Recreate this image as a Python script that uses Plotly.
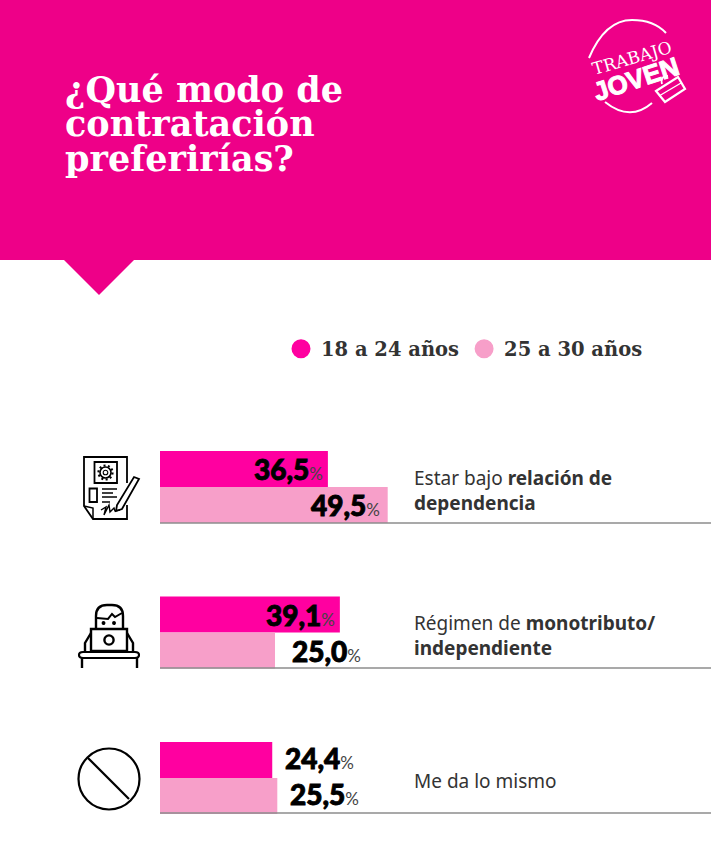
import plotly.graph_objects as go

W = 711
H = 861

# data
categories = ['relacion', 'monotributo', 'mismo']
young = [36.5, 39.1, 24.4]
older = [49.5, 25.0, 25.5]
series_names = ['18 a 24 años', '25 a 30 años']
category_labels = [
    'Estar bajo <b>relación de</b><br><b>dependencia</b>',
    'Régimen de <b>monotributo/</b><br><b>independiente</b>',
    'Me da lo mismo',
]
title_lines = ['¿Qué modo de', 'contratación', 'preferirías?']

PINK = '#FF00A0'
PALE = '#F79FC9'
HEAD = '#EE0088'
SERIF = 'DejaVu Serif'
LABEL_FONT = 'Lato'
TEXT_FONT = 'Noto Sans'


def px(x):
    return x / W


def py(y):
    return 1 - y / H


def path(cmds):
    """Turn [('M', x, y), ('Q', x1, y1, x, y), ...] in page pixels into a paper path."""
    out = []
    for c in cmds:
        if c[0] == 'Z':
            out.append('Z')
            continue
        nums = []
        for i in range(1, len(c), 2):
            nums.append(f'{px(c[i]):.5f},{py(c[i + 1]):.5f}')
        out.append(c[0] + ' ' + ' '.join(nums))
    return ' '.join(out)


def shape_path(cmds, color='black', width=2, fill=None):
    return dict(type='path', xref='paper', yref='paper', path=path(cmds),
                line=dict(color=color, width=width),
                fillcolor=fill if fill else 'rgba(0,0,0,0)', layer='above')


def line(x0, y0, x1, y1, color='black', width=2):
    return shape_path([('M', x0, y0), ('L', x1, y1)], color, width)


def circle(cx, cy, r, color='black', width=2, fill=None, dash='solid'):
    return dict(type='circle', xref='paper', yref='paper',
                x0=px(cx - r), x1=px(cx + r), y0=py(cy + r), y1=py(cy - r),
                line=dict(color=color, width=width, dash=dash),
                fillcolor=fill if fill else 'rgba(0,0,0,0)', layer='above')


def rect(x0, y0, x1, y1, color='black', width=2, fill=None):
    return dict(type='rect', xref='paper', yref='paper',
                x0=px(x0), x1=px(x1), y0=py(y1), y1=py(y0),
                line=dict(color=color, width=width),
                fillcolor=fill if fill else 'rgba(0,0,0,0)', layer='above')


fig = go.Figure()

fig.add_trace(go.Bar(y=categories, x=young, orientation='h', marker_color=PINK,
                     marker_line_width=0, showlegend=False, hoverinfo='skip'))
fig.add_trace(go.Bar(y=categories, x=older, orientation='h', marker_color=PALE,
                     marker_line_width=0, showlegend=False, hoverinfo='skip'))

# legend entries only, the legend in the original uses dots
for name, color in zip(series_names, [PINK, PALE]):
    fig.add_trace(go.Scatter(x=[None], y=[None], mode='markers', name=name,
                             marker=dict(color=color, size=16, line=dict(color=color, width=3))))

shapes = []

# header band and its pointer
shapes.append(dict(type='rect', xref='paper', yref='paper', x0=0, x1=1, y0=py(260), y1=1,
                   fillcolor=HEAD, line_width=0, layer='below'))
shapes.append(dict(type='path', xref='paper', yref='paper', layer='below',
                   path=path([('M', 64, 260), ('L', 134, 260), ('L', 99, 295), ('Z',)]),
                   fillcolor=HEAD, line_width=0))

# logo
shapes.append(shape_path([('M', 589, 58), ('Q', 605, 20, 632, 20), ('Q', 654, 20, 666, 33)], 'white', 2))
shapes.append(shape_path([('M', 605, 102), ('Q', 630, 122, 652, 103)], 'white', 2))
shapes.append(shape_path([('M', 662, 84), ('Q', 660, 76, 668, 76)], 'white', 1.8))
shapes.append(shape_path([('M', 656, 91), ('L', 678, 77), ('L', 685, 89), ('L', 665, 102), ('Z',)],
                         'white', 2.2, HEAD))
shapes.append(line(659, 96, 681, 83, 'white', 1.4))

# baselines under each group
for y in [523, 668, 813]:
    shapes.append(line(160, y, 711, y, '#8C8C8C', 1.5))

# contract icon
shapes.append(shape_path([('M', 127, 483), ('L', 127, 457), ('L', 84, 457), ('L', 84, 506), ('L', 93, 519),
                          ('L', 127, 519), ('L', 127, 505)], 'black', 1.8))
shapes.append(shape_path([('M', 84, 506), ('L', 93, 508), ('L', 93, 519)], 'black', 1.5))
shapes.append(rect(94.5, 462, 117, 483, 'black', 1.8))
shapes.append(circle(105.5, 472.5, 5.5, 'black', 1.6))
shapes.append(circle(105.5, 472.5, 7, 'black', 2.2, dash='2px,2.4px'))
shapes.append(circle(105.5, 472.5, 2.3, 'black', 1.1))
shapes.append(rect(89.5, 488.5, 97, 502, 'black', 1.8))
for y0, x1 in zip([489, 493, 497, 502], [117, 113, 117, 110]):
    shapes.append(line(102, y0, x1, y0, 'black', 1.5))
shapes.append(shape_path([('M', 134, 477), ('L', 139, 479), ('L', 122, 509), ('L', 116, 511),
                          ('L', 117, 505), ('Z',)], 'black', 1.8, 'white'))
shapes.append(shape_path([('M', 101, 510), ('L', 106, 507), ('L', 104, 515), ('L', 109, 505),
                          ('L', 110, 512), ('L', 114, 508), ('L', 115, 511), ('L', 120, 510)], 'black', 1.4))

# person with laptop icon
shapes.append(shape_path([('M', 96, 629), ('L', 96, 616), ('Q', 96, 605, 107, 605), ('L', 112, 605),
                          ('Q', 123, 605, 123, 616), ('L', 123, 629)], 'black', 2.4))
shapes.append(shape_path([('M', 97, 618), ('L', 108, 619), ('L', 112, 614), ('L', 115, 617),
                          ('L', 122, 613)], 'black', 2))
shapes.append(circle(103.5, 623, 1.2, 'black', 1.5, 'black'))
shapes.append(circle(114, 623, 1.2, 'black', 1.5, 'black'))
shapes.append(rect(91, 629, 127, 651, 'black', 2.4, 'white'))
shapes.append(circle(109, 640, 4.6, 'black', 2.4))
shapes.append(shape_path([('M', 91, 633), ('L', 85, 643), ('L', 85, 651)], 'black', 2.4))
shapes.append(shape_path([('M', 127, 633), ('L', 133, 643), ('L', 133, 651)], 'black', 2.4))
shapes.append(shape_path([('M', 83, 652), ('L', 135, 652), ('Q', 139, 652, 139, 655), ('Q', 139, 658, 135, 658),
                          ('L', 83, 658), ('Q', 79, 658, 79, 655), ('Q', 79, 652, 83, 652)], 'black', 2.2))
shapes.append(line(82, 658, 82, 668, 'black', 2.4))
shapes.append(line(137, 658, 137, 668, 'black', 2.4))

# prohibition icon
shapes.append(circle(109, 779, 30.5, 'black', 2.2))
shapes.append(line(88, 758, 129, 799, 'black', 2.2))

annotations = []

for i, text in enumerate(title_lines):
    annotations.append(dict(xref='paper', yref='paper', x=px(63), y=py(89 + i * 34.5),
                            xanchor='left', yanchor='middle', showarrow=False, text=f'<b>{text}</b>',
                            font=dict(family=SERIF, size=35, color='white')))

annotations.append(dict(xref='paper', yref='paper', x=px(632), y=py(58), xanchor='center', yanchor='middle',
                        showarrow=False, text='TRABAJO', textangle=-16,
                        font=dict(family=SERIF, size=17, color='white')))
annotations.append(dict(xref='paper', yref='paper', x=px(636), y=py(79), xanchor='center', yanchor='middle',
                        showarrow=False, text='<span style="stroke:white;stroke-width:1px"><b>JOVEN</b></span>',
                        textangle=-18, font=dict(family='Liberation Sans', size=26, color='white')))

# value labels, shift is how far the label's right edge sits from the bar end
young_shift = [-3, -3, 84]
older_shift = [-6, 88, 84]
group_lift = [0, 0, 2]
for cat, v1, v2, s1, s2, lift in zip(categories, young, older, young_shift, older_shift, group_lift):
    for v, s, yshift in [(v1, s1, 18 + lift), (v2, s2, -18 + lift)]:
        label = f'{v:.1f}'.replace('.', ',')
        annotations.append(dict(
            x=v, y=cat, xref='x', yref='y', xanchor='right', yanchor='middle', xshift=s, yshift=yshift,
            showarrow=False,
            text=(f'<span style="stroke:black;stroke-width:0.9px">{label}</span>'
                  '<span style="font-size:17px;font-weight:400;color:#444">%</span>'),
            font=dict(family=LABEL_FONT, size=28, color='black', weight=900),
        ))

for cat, label in zip(categories, category_labels):
    annotations.append(dict(
        x=0, y=cat, xref='x', yref='y', xanchor='left', yanchor='middle', xshift=252, yshift=-3,
        align='left', showarrow=False, text=label,
        font=dict(family=TEXT_FONT, size=19, color='#333333'),
    ))

fig.update_layout(
    width=W,
    height=H,
    autosize=False,
    margin=dict(l=0, r=0, t=0, b=0),
    paper_bgcolor='white',
    plot_bgcolor='rgba(0,0,0,0)',
    barmode='group',
    bargap=0.505,
    bargroupgap=0,
    showlegend=True,
    legend=dict(orientation='h', x=px(281), y=py(349), xanchor='left', yanchor='middle',
                font=dict(family=SERIF, size=19.5, color='#333333', weight=700),
                bgcolor='rgba(0,0,0,0)', itemsizing='trace', itemclick=False, itemdoubleclick=False),
    shapes=shapes,
    annotations=annotations,
)
# 160 px is where the bars start, one unit is about 4.6 px
fig.update_xaxes(range=[-160 / 4.6, (W - 160) / 4.6], visible=False, fixedrange=True)
fig.update_yaxes(range=[2.57, -3.347], visible=False, fixedrange=True)

fig.write_html('out.html', config=dict(displayModeBar=False),
               post_script="document.body.style.margin='0';document.body.style.overflow='hidden';")
